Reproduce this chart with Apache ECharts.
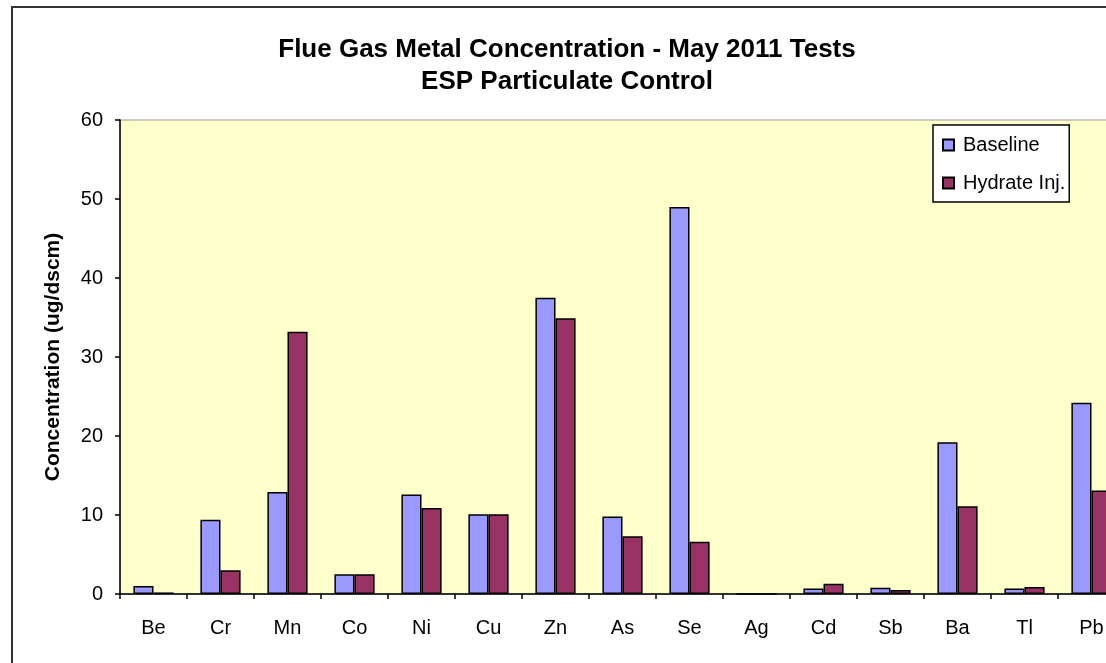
<!DOCTYPE html>
<html>
<head>
<meta charset="utf-8">
<script src="https://cdn.jsdelivr.net/npm/echarts@6/dist/echarts.min.js"></script>
<style>
  html, body { margin: 0; padding: 0; background: #fff; overflow: hidden; }
  #wrap { width: 1106px; height: 663px; overflow: hidden; position: relative; }
  #chart { width: 1134px; height: 700px; position: absolute; left: 0; top: 0; }
</style>
</head>
<body>
<div id="wrap"><div id="chart"></div></div>
<script>
// metals sampled in the flue gas
var metals = ['Be', 'Cr', 'Mn', 'Co', 'Ni', 'Cu', 'Zn', 'As', 'Se', 'Ag', 'Cd', 'Sb', 'Ba', 'Tl', 'Pb']
// concentrations, ug/dscm
var baseline = [1.0, 9.4, 12.9, 2.5, 12.6, 10.1, 37.5, 9.8, 49.0, 0, 0.7, 0.8, 19.2, 0.7, 24.2]
var hydrateInj = [0.2, 3.0, 33.2, 2.5, 10.9, 10.1, 34.9, 7.3, 6.6, 0, 1.3, 0.5, 11.1, 0.9, 13.1]
var yTicks = { min: 0, max: 60, step: 10 }

var font = 'Liberation Sans, Arial, sans-serif'
var myChart = echarts.init(document.getElementById('chart'))
myChart.setOption({
  animation: false,
  textStyle: { fontFamily: font },
  title: {
    text: 'Flue Gas Metal Concentration - May 2011 Tests\nESP Particulate Control',
    left: 'center',
    top: 29,
    textStyle: { fontSize: 26, fontWeight: 'bold', color: '#000', lineHeight: 32, fontFamily: font }
  },
  graphic: [{
    type: 'rect',
    shape: { x: 12, y: 7, width: 1300, height: 800 },
    style: { fill: null, stroke: '#333', lineWidth: 2 },
    silent: true
  }],
  legend: {
    orient: 'vertical',
    left: 933,
    top: 125,
    backgroundColor: '#fff',
    borderColor: '#000',
    borderWidth: 1.5,
    padding: [10, 4, 9, 9],
    itemWidth: 11,
    itemHeight: 11,
    itemGap: 18,
    icon: 'rect',
    textStyle: { fontSize: 20, color: '#000', fontFamily: font, padding: [0, 0, 0, 4] },
    data: ['Baseline', 'Hydrate Inj.']
  },
  grid: {
    left: 120, top: 120, right: 9, bottom: 106,
    show: true, backgroundColor: '#FFFFCC', borderColor: '#999', borderWidth: 1,
    containLabel: false
  },
  xAxis: {
    type: 'category',
    data: metals,
    axisLine: { lineStyle: { color: '#000', width: 1.5 } },
    axisTick: { show: true, length: 5, interval: 0, lineStyle: { color: '#000', width: 1.5 } },
    axisLabel: { fontSize: 20, color: '#000', margin: 24, interval: 0 }
  },
  yAxis: {
    type: 'value',
    min: yTicks.min, max: yTicks.max, interval: yTicks.step,
    name: 'Concentration (ug/dscm)',
    nameLocation: 'middle',
    nameGap: 56,
    nameTextStyle: { fontSize: 21, fontWeight: 'bold', color: '#000' },
    axisLine: { show: true, lineStyle: { color: '#000', width: 1.5 } },
    axisTick: { show: true, length: 5, lineStyle: { color: '#000', width: 1.5 } },
    axisLabel: { fontSize: 20, color: '#000', margin: 17 },
    splitLine: { show: false }
  },
  series: [
    {
      name: 'Baseline', type: 'bar', data: baseline,
      barGap: '0%', barCategoryGap: '40%',
      itemStyle: { color: '#9999FF', borderColor: '#000', borderWidth: 1.5 }
    },
    {
      name: 'Hydrate Inj.', type: 'bar', data: hydrateInj,
      itemStyle: { color: '#993366', borderColor: '#000', borderWidth: 1.5 }
    }
  ]
})
</script>
</body>
</html>
